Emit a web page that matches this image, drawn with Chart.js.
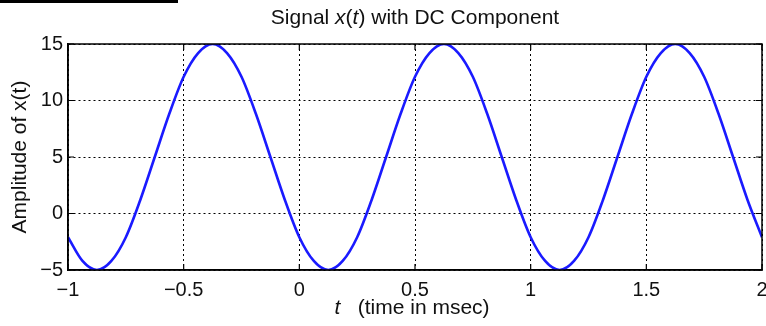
<!DOCTYPE html>
<html>
<head>
<meta charset="utf-8">
<script src="https://cdn.jsdelivr.net/npm/chart.js@4/dist/chart.umd.min.js"></script>
<style>
  body { margin: 0; background: #fff; }
  #wrap { position: relative; width: 766px; height: 326px; }
  #bar { position: absolute; left: 0; top: 0; width: 178px; height: 3px; background: #000; }
</style>
</head>
<body>
<div id="wrap">
  <canvas id="chart" width="766" height="326"></canvas>
  <div id="bar"></div>
</div>
<script>
// time axis, msec
const timeValues = [
  -1, -0.9375, -0.875, -0.8125, -0.75, -0.6875, -0.625, -0.5625,
  -0.5, -0.4375, -0.375, -0.3125, -0.25, -0.1875, -0.125, -0.0625,
  0, 0.0625, 0.125, 0.1875, 0.25, 0.3125, 0.375, 0.4375,
  0.5, 0.5625, 0.625, 0.6875, 0.75, 0.8125, 0.875, 0.9375,
  1, 1.0625, 1.125, 1.1875, 1.25, 1.3125, 1.375, 1.4375,
  1.5, 1.5625, 1.625, 1.6875, 1.75, 1.8125, 1.875, 1.9375, 2
];
// amplitude
const signalValues = [
  -2.1, -4.2, -5, -4.2, -2.1, 1.2, 5, 8.8,
  12.1, 14.2, 15, 14.2, 12.1, 8.8, 5, 1.2,
  -2.1, -4.2, -5, -4.2, -2.1, 1.2, 5, 8.8,
  12.1, 14.2, 15, 14.2, 12.1, 8.8, 5, 1.2,
  -2.1, -4.2, -5, -4.2, -2.1, 1.2, 5, 8.8,
  12.1, 14.2, 15, 14.2, 12.1, 8.8, 5, 1.2, -2.1
];
const xTicks = [-1, -0.5, 0, 0.5, 1, 1.5, 2];
const yTicks = [-5, 0, 5, 10, 15];

const titleParts = [['Signal ', false], ['x', true], ['(', false], ['t', true], [') with DC Component', false]];
const xLabelParts = [['t', true], ['   (time in msec)', false]];
const yLabel = 'Amplitude of x(t)';

const FONT = "'Liberation Sans', Arial, sans-serif";

function drawParts(ctx, parts, cx, y, size) {
  let total = 0;
  const widths = parts.map(([txt, it]) => {
    ctx.font = (it ? 'italic ' : '') + size + 'px ' + FONT;
    const w = ctx.measureText(txt).width;
    total += w;
    return w;
  });
  let x = cx - total / 2;
  parts.forEach(([txt, it], i) => {
    ctx.font = (it ? 'italic ' : '') + size + 'px ' + FONT;
    ctx.fillText(txt, x, y);
    x += widths[i];
  });
}

const framePlugin = {
  id: 'frame',
  afterDraw(chart) {
    const ctx = chart.ctx;
    const a = chart.chartArea;
    const xs = chart.scales.x, ys = chart.scales.y;
    ctx.save();
    ctx.strokeStyle = '#000';
    ctx.lineWidth = 1.5;
    ctx.strokeRect(a.left, a.top, a.right - a.left, a.bottom - a.top);
    ctx.lineWidth = 1.2;
    ctx.beginPath();
    xTicks.forEach(v => {
      const px = xs.getPixelForValue(v);
      ctx.moveTo(px, a.bottom); ctx.lineTo(px, a.bottom - 6);
      ctx.moveTo(px, a.top); ctx.lineTo(px, a.top + 6);
    });
    yTicks.forEach(v => {
      const py = ys.getPixelForValue(v);
      ctx.moveTo(a.left, py); ctx.lineTo(a.left + 6, py);
      ctx.moveTo(a.right, py); ctx.lineTo(a.right - 6, py);
    });
    ctx.stroke();

    ctx.fillStyle = '#111';
    ctx.textBaseline = 'alphabetic';
    ctx.textAlign = 'left';
    drawParts(ctx, titleParts, (a.left + a.right) / 2, 24, 21);
    drawParts(ctx, xLabelParts, 412, 314, 21);
    ctx.restore();
  }
};

const gridStyle = {
  color: '#000',
  lineWidth: 1,
  drawTicks: false
};

new Chart(document.getElementById('chart'), {
  type: 'line',
  data: {
    datasets: [{
      data: timeValues.map((t, i) => ({ x: t, y: signalValues[i] })),
      borderColor: '#1a1aff',
      borderWidth: 2.6,
      pointRadius: 0,
      cubicInterpolationMode: 'monotone',
      fill: false
    }]
  },
  options: {
    responsive: false,
    animation: false,
    layout: { padding: { top: 44, left: 0, right: 4, bottom: 0 } },
    plugins: { legend: { display: false }, tooltip: { enabled: false } },
    scales: {
      x: {
        type: 'linear',
        min: -1, max: 2,
        afterBuildTicks(scale) { scale.ticks = xTicks.map(v => ({ value: v })); },
        afterFit(scale) { scale.height = 56; scale.paddingLeft = 0; scale.paddingRight = 0; },
        grid: gridStyle,
        // in v4 border.dash is what dashes the grid lines
        border: { color: '#000', width: 1.5, dash: [2, 3] },
        ticks: {
          color: '#111',
          padding: 8,
          maxRotation: 0,
          font: { family: FONT, size: 20 },
          callback: v => String(v).replace('-', '\u2212')
        }
      },
      y: {
        min: -5, max: 15,
        afterBuildTicks(scale) { scale.ticks = yTicks.map(v => ({ value: v })); },
        afterFit(scale) { scale.width = 68; scale.paddingTop = 0; scale.paddingBottom = 0; },
        grid: gridStyle,
        border: { color: '#000', width: 1.5, dash: [2, 3] },
        title: {
          display: true,
          text: yLabel,
          color: '#111',
          font: { family: FONT, size: 21 },
          padding: { top: 8, bottom: 0 }
        },
        ticks: {
          color: '#111',
          padding: 5,
          font: { family: FONT, size: 20 },
          callback: v => String(v).replace('-', '\u2212')
        }
      }
    }
  },
  plugins: [framePlugin]
});
</script>
</body>
</html>
